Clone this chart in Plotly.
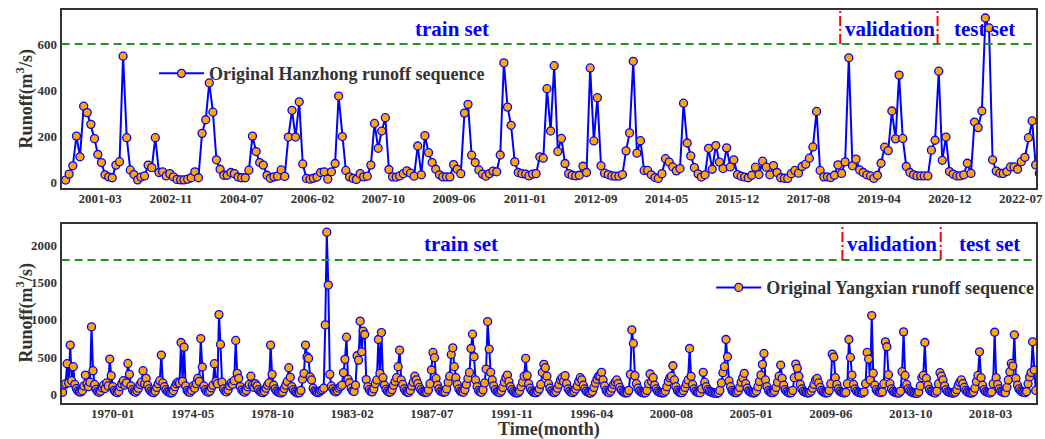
import pandas as pd
import plotly.graph_objects as go

# ---------------- data ----------------
hz_start = "2000-06-01"
hz_runoff = [
    9, 35, 71, 200, 110, 330, 302, 251, 189, 120,
    85, 32, 23, 19, 74, 89, 547, 193, 53, 33,
    10, 22, 27, 74, 63, 193, 42, 45, 27, 37,
    23, 12, 10, 10, 13, 19, 45, 19, 212, 271,
    431, 304, 97, 56, 30, 30, 42, 37, 22, 19,
    19, 52, 200, 133, 85, 74, 30, 17, 23, 26,
    53, 25, 196, 312, 196, 349, 79, 16,
    13, 17, 22, 42, 45, 13, 45, 81, 374, 198,
    51, 23, 16, 12, 37, 23, 26, 74, 255, 147,
    222, 280, 55, 23, 22, 27, 37, 49, 39, 26,
    157, 32, 202, 128, 85, 56, 32, 23, 23, 23,
    76, 56, 37, 300, 338, 117, 85, 53, 35, 26,
    37, 48, 45, 118, 518, 326, 247, 88, 42, 37,
    35, 27, 35, 37, 110, 104,
    406, 222, 506, 133, 190, 81, 37, 30, 27, 30,
    69, 42, 496, 179, 367, 71, 39, 33, 27, 26,
    26, 33, 136, 214, 525, 126, 180, 51, 51, 32,
    20, 16, 37, 102, 87, 66, 49, 59, 343, 170,
    114, 63, 36, 22, 32, 147, 56, 159, 87, 59,
    149, 66, 97, 33, 26, 22, 19, 30, 65, 33,
    91, 65, 32, 72, 42, 19, 17, 16, 37, 51,
    39, 68, 78, 104, 153, 307, 51, 23, 23, 20,
    30, 75, 38, 88, 540, 71, 100, 53, 42, 32,
    27, 16, 30, 82, 152, 137, 309, 188, 465, 190,
    68, 42, 32, 27, 27, 27, 27, 139, 182, 482,
    95, 196, 46, 35, 27, 27, 32, 82, 38, 261,
    237, 309, 713, 670, 97, 48, 39, 38, 46, 66,
    66, 56, 89, 108, 193, 266, 75, 39,
]
hz_ticks = ["2001-03", "2002-11", "2004-07", "2006-02", "2007-10", "2009-06", "2011-01",
            "2012-09", "2014-05", "2015-12", "2017-08", "2019-04", "2020-12", "2022-07"]
hz_splits = ["2018-05-20", "2020-08-22"]

yx_start = "1967-04-01"
yx_runoff = [
    35, 130, 150, 416, 160, 664, 190, 376, 140, 85, 55, 40,
    40, 55, 120, 265, 150, 110, 170, 907, 323, 140, 75, 45,
    35, 50, 95, 130, 85, 160, 120, 478, 257, 110, 60, 40,
    30, 45, 110, 150, 190, 130, 160, 420, 274, 120, 70, 45,
    35, 55, 90, 140, 170, 323, 150, 221, 130, 80, 50, 35,
    30, 50, 100, 150, 190, 531, 160, 110, 70, 45, 35, 25,
    30, 55, 110, 150, 170, 160, 699, 180, 637, 120, 60, 40,
    35, 60, 120, 90, 150, 220, 180, 752, 372, 120, 70, 45,
    35, 50, 95, 130, 416, 180, 150, 1071, 673, 170, 80, 50,
    40, 65, 120, 160, 140, 190, 726, 288, 221, 110, 65, 45,
    35, 60, 110, 140, 250, 130, 100, 150, 120, 70, 45, 35,
    30, 45, 90, 130, 160, 664, 274, 130, 80, 50, 35, 30,
    25, 40, 85, 130, 180, 363, 235, 110, 70, 45, 30, 25,
    30, 60, 210, 288, 664, 509, 487, 240, 200, 90, 55, 40,
    30, 40, 55, 70, 90, 934, 2170, 1465, 274, 120, 80, 50,
    40, 55, 90, 110, 130, 297, 474, 770, 210, 160, 90, 55,
    45, 130, 522, 464, 984, 575, 850, 806, 204, 110, 70, 45,
    40, 80, 150, 200, 739, 288, 832, 230, 130, 75, 50, 35,
    40, 70, 130, 180, 230, 376, 597, 200, 140, 80, 50, 35,
    35, 60, 120, 170, 250, 200, 150, 100, 70, 45, 35, 30,
    35, 65, 150, 332, 566, 496, 220, 130, 80, 50, 40, 35,
    40, 80, 170, 250, 540, 628, 376, 230, 140, 80, 50, 40,
    35, 70, 140, 220, 300, 619, 810, 509, 200, 110, 60, 40,
    35, 70, 160, 345, 978, 611, 301, 200, 120, 70, 45, 35,
    30, 50, 100, 170, 230, 265, 180, 110, 70, 45, 30, 25,
    30, 50, 110, 170, 250, 487, 260, 150, 90, 55, 35, 30,
    30, 45, 80, 140, 300, 408, 363, 250, 150, 90, 55, 35,
    30, 45, 90, 140, 200, 230, 180, 257, 150, 80, 50, 35,
    30, 45, 80, 120, 180, 230, 200, 130, 80, 50, 35, 25,
    25, 45, 100, 160, 210, 250, 252, 301, 200, 120, 60, 40,
    30, 50, 90, 140, 170, 200, 150, 100, 65, 45, 30, 25,
    30, 60, 274, 867, 686, 257, 150, 90, 55, 40, 30, 25,
    30, 60, 150, 279, 180, 230, 130, 80, 50, 35, 30, 25,
    30, 50, 110, 180, 230, 250, 389, 200, 110, 60, 40, 30,
    30, 55, 100, 150, 200, 619, 248, 140, 80, 50, 35, 30,
    30, 80, 301, 170, 110, 70, 50, 40, 30, 25, 25, 20,
    30, 60, 160, 296, 376, 739, 509, 186, 110, 60, 40, 30,
    30, 50, 100, 170, 230, 288, 150, 90, 55, 40, 30, 25,
    30, 50, 110, 180, 265, 407, 553, 200, 110, 60, 40, 30,
    30, 50, 100, 170, 250, 398, 221, 130, 70, 45, 30, 25,
    30, 60, 230, 411, 354, 250, 140, 80, 50, 35, 30, 25,
    30, 50, 90, 140, 199, 220, 160, 100, 60, 40, 30, 25,
    30, 60, 150, 544, 504, 230, 140, 80, 50, 35, 30, 25,
    35, 150, 739, 500, 265, 140, 80, 50, 35, 30, 25, 25,
    40, 150, 566, 478, 200, 1058, 290, 130, 70, 45, 35, 30,
    40, 150, 708, 642, 270, 150, 80, 50, 35, 30, 25, 25,
    50, 310, 841, 260, 140, 80, 55, 40, 30, 25, 25, 20,
    40, 120, 230, 260, 699, 220, 130, 75, 50, 40, 30, 25,
    50, 150, 296, 250, 200, 120, 70, 45, 35, 30, 25, 25,
    35, 70, 130, 170, 200, 150, 100, 60, 40, 30, 25, 25,
    40, 90, 180, 260, 575, 230, 130, 70, 45, 35, 30, 25,
    40, 150, 836, 230, 140, 80, 50, 40, 30, 30, 100, 200,
    310, 420, 385, 801, 220, 130, 80, 55, 40, 35, 30, 45,
    150, 240, 300, 708, 332, 60,
]
yx_ticks = ["1970-01", "1974-05", "1978-10", "1983-02", "1987-07", "1991-11",
            "1996-04", "2000-08", "2005-01", "2009-06", "2013-10", "2018-03"]
yx_splits = ["2010-01-21", "2015-06-15"]

hz_dates = pd.date_range(hz_start, periods=len(hz_runoff), freq="MS")
yx_dates = pd.date_range(yx_start, periods=len(yx_runoff), freq="MS")

# date ticks sit on a fixed day interval (600 d / 1600 d); the labels show year-month
hz_tickvals = pd.date_range("2001-03-20", periods=len(hz_ticks), freq="600D")
yx_tickvals = pd.date_range("1970-01-01", periods=len(yx_ticks), freq="1600D")

# ---------------- styling ----------------
W, H = 1045, 439
SERIF = "Liberation Serif, Times New Roman, serif"
DARK = "#333333"
LINE_BLUE = "#0000ff"
FILL_ORANGE = "#ffa500"


def px_x(v):
    return v / W


def px_y(v):
    return 1 - v / H


fig = go.Figure()

fig.add_trace(go.Scatter(
    x=hz_dates, y=hz_runoff, mode="lines+markers",
    name="Original Hanzhong runoff sequence",
    line=dict(color=LINE_BLUE, width=2),
    marker=dict(size=8, color=FILL_ORANGE, line=dict(color=LINE_BLUE, width=1.3)),
    xaxis="x", yaxis="y", legend="legend",
))
fig.add_trace(go.Scatter(
    x=yx_dates, y=yx_runoff, mode="lines+markers",
    name="Original Yangxian runoff sequence",
    line=dict(color=LINE_BLUE, width=2),
    marker=dict(size=8, color=FILL_ORANGE, line=dict(color=LINE_BLUE, width=1.3)),
    xaxis="x2", yaxis="y2", legend="legend2",
))

tickfont = dict(family=SERIF, size=13, color=DARK, weight="bold")
axis_common = dict(showline=True, mirror=True, linecolor=DARK, linewidth=2,
                   showgrid=False, zeroline=False, ticks="", tickfont=tickfont)
x_common = dict(axis_common, ticklabeloverflow="allow", ticklabelstandoff=-3)

x_dom = [px_x(62), px_x(1043)]

fig.update_layout(
    width=W, height=H,
    margin=dict(l=0, r=0, t=0, b=0),
    paper_bgcolor="white", plot_bgcolor="white",
    xaxis=dict(domain=x_dom, anchor="y", type="date",
               range=["2000-04-28", "2022-12-04"],
               tickvals=hz_tickvals, ticktext=hz_ticks, **x_common),
    yaxis=dict(domain=[px_y(189), px_y(10)], anchor="x",
               range=[-26, 748], tickvals=[0, 200, 400, 600], **axis_common),
    xaxis2=dict(domain=x_dom, anchor="y2", type="date",
                range=["1967-03-12", "2020-09-07"],
                tickvals=yx_tickvals, ticktext=yx_ticks, **x_common),
    yaxis2=dict(domain=[px_y(405), px_y(225)], anchor="x2",
                range=[-110, 2280], tickvals=[0, 500, 1000, 1500, 2000], **axis_common),
    legend=dict(x=px_x(155), y=px_y(74), xanchor="left", yanchor="middle",
                bgcolor="rgba(0,0,0,0)", borderwidth=0, itemwidth=45,
                font=dict(family=SERIF, size=18, color=DARK, weight="bold")),
    legend2=dict(x=px_x(716), y=px_y(289), xanchor="left", yanchor="middle",
                 bgcolor="rgba(0,0,0,0)", borderwidth=0, itemwidth=45,
                 font=dict(family=SERIF, size=18, color=DARK, weight="bold")),
    showlegend=True,
)

shapes = []
# threshold lines
for ax, yref, yv in (("x", "y", 600), ("x2", "y2", 1800)):
    shapes.append(dict(type="line", xref=f"{ax} domain", yref=yref, x0=0, x1=1, y0=yv, y1=yv,
                       line=dict(color="#1a9a1a", width=2, dash="8px,5px")))
# data-split markers
for d in hz_splits:
    shapes.append(dict(type="line", xref="x", yref="y", x0=d, x1=d, y0=600, y1=748,
                       line=dict(color="red", width=2, dash="10px,3px,2px,3px")))
for d in yx_splits:
    shapes.append(dict(type="line", xref="x2", yref="y2", x0=d, x1=d, y0=1800, y1=2280,
                       line=dict(color="red", width=2, dash="10px,3px,2px,3px")))
fig.update_layout(shapes=shapes)

label_font = dict(family=SERIF, size=21, color="blue", weight="bold")
annotations = []
for txt, xp, yp in (("train set", 455, 29), ("validation", 896, 29), ("test set", 991, 29),
                    ("train set", 464, 245), ("validation", 898, 245), ("test set", 996, 245)):
    annotations.append(dict(text=txt, x=px_x(xp), y=px_y(yp), xref="paper", yref="paper",
                            showarrow=False, xanchor="center", yanchor="middle", font=label_font))

title_font = dict(family=SERIF, size=18, color=DARK, weight="bold")
for yp in (99, 314):
    annotations.append(dict(text="Runoff(m<sup>3</sup>/s)", x=px_x(25), y=px_y(yp),
                            xref="paper", yref="paper", showarrow=False, textangle=-90,
                            xanchor="center", yanchor="middle", font=title_font))
annotations.append(dict(text="Time(month)", x=px_x(553), y=px_y(431), xref="paper", yref="paper",
                        showarrow=False, xanchor="center", yanchor="middle", font=title_font))
fig.update_layout(annotations=annotations)

fig.write_html("out.html")
